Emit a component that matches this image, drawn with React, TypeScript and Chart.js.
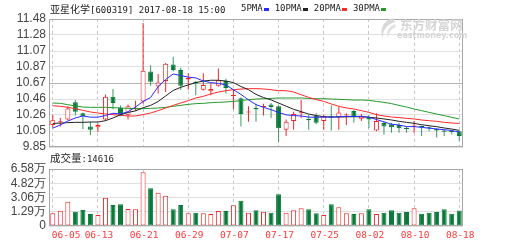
import React, { useEffect, useRef } from "react";
import { Chart, registerables } from "chart.js";

Chart.register(...registerables);

// ---------------- data ----------------
const dates = [
  "06-05","06-06","06-07","06-08","06-09","06-12","06-13","06-14","06-15","06-16",
  "06-19","06-20","06-21","06-22","06-23","06-26","06-27","06-28","06-29","06-30",
  "07-03","07-04","07-05","07-06","07-07","07-10","07-11","07-12","07-13","07-14",
  "07-17","07-18","07-19","07-20","07-21","07-24","07-25","07-26","07-27","07-28",
  "07-31","08-01","08-02","08-03","08-04","08-07","08-08","08-09","08-10","08-11",
  "08-14","08-15","08-16","08-17","08-18",
];

const opens = [
  10.13,10.165,10.20,10.42,10.28,10.11,10.10,10.20,10.49,10.35,
  10.26,10.33,10.43,10.81,10.62,10.69,10.90,10.83,10.71,10.68,
  10.58,10.56,10.63,10.69,10.50,10.47,10.29,10.35,10.36,10.39,
  10.37,10.07,10.18,10.28,10.21,10.25,10.18,10.24,10.23,10.25,
  10.31,10.21,10.23,10.06,10.155,10.14,10.13,10.09,10.11,10.12,
  10.10,10.08,10.06,10.05,10.05,
];
const highs = [
  10.26,10.22,10.37,10.45,10.29,10.17,10.15,10.52,10.59,10.38,
  10.39,10.44,11.43,10.89,10.78,10.92,11.00,10.86,10.79,10.69,
  10.79,10.66,10.85,10.72,10.58,10.48,10.37,10.40,10.40,10.41,
  10.38,10.20,10.30,10.45,10.26,10.28,10.26,10.38,10.36,10.28,
  10.32,10.27,10.25,10.28,10.18,10.155,10.155,10.11,10.18,10.12,
  10.11,10.09,10.07,10.07,10.06,
];
const lows = [
  10.10,10.11,10.19,10.25,10.08,10.00,10.04,10.18,10.33,10.24,
  10.20,10.31,10.40,10.63,10.53,10.55,10.81,10.58,10.58,10.51,
  10.57,10.51,10.62,10.53,10.33,10.11,10.17,10.17,10.25,10.22,
  9.91,9.99,10.07,10.22,10.07,10.14,10.07,10.06,10.07,10.13,
  10.16,10.18,10.09,10.05,10.01,10.03,10.03,10.03,10.03,9.99,
  10.05,9.97,9.99,10.01,9.93,
];
const closes = [
  10.19,10.17,10.34,10.30,10.24,10.07,10.13,10.49,10.41,10.26,
  10.37,10.35,10.82,10.68,10.67,10.91,10.83,10.63,10.73,10.66,
  10.64,10.59,10.70,10.60,10.51,10.27,10.30,10.33,10.37,10.36,
  10.09,10.17,10.27,10.29,10.19,10.16,10.24,10.23,10.29,10.26,
  10.23,10.24,10.20,10.18,10.11,10.10,10.09,10.08,10.115,10.10,
  10.085,10.06,10.045,10.04,9.99,
];

const ma5 = [
  10.09,10.13,10.18,10.22,10.245,10.23,10.23,10.25,10.28,10.27,
  10.30,10.36,10.43,10.48,10.62,10.71,10.78,10.76,10.74,10.73,
  10.69,10.67,10.66,10.64,10.58,10.52,10.45,10.39,10.355,10.325,
  10.29,10.26,10.25,10.245,10.23,10.23,10.23,10.23,10.235,10.24,
  10.24,10.24,10.23,10.20,10.17,10.14,10.13,10.11,10.11,10.10,
  10.09,10.08,10.07,10.06,10.04,
];
const ma10 = [
  10.15,10.155,10.16,10.164,10.164,10.168,10.168,10.185,10.22,10.26,
  10.29,10.31,10.35,10.38,10.43,10.50,10.57,10.61,10.64,10.67,
  10.69,10.70,10.70,10.69,10.67,10.62,10.58,10.52,10.48,10.45,
  10.41,10.37,10.33,10.30,10.27,10.25,10.236,10.232,10.232,10.234,
  10.236,10.236,10.228,10.22,10.207,10.194,10.177,10.164,10.151,10.134,
  10.121,10.109,10.092,10.079,10.062,
];
const ma20 = [
  10.376,10.368,10.355,10.338,10.317,10.296,10.283,10.27,10.262,10.253,
  10.245,10.245,10.262,10.283,10.313,10.347,10.38,10.41,10.44,10.474,
  10.495,10.525,10.55,10.567,10.58,10.588,10.593,10.593,10.589,10.58,
  10.567,10.567,10.55,10.516,10.482,10.453,10.431,10.398,10.368,10.347,
  10.334,10.313,10.291,10.262,10.245,10.232,10.224,10.215,10.207,10.194,
  10.185,10.177,10.164,10.156,10.15,
];
const ma30 = [
  10.41,10.406,10.389,10.372,10.359,10.355,10.355,10.355,10.351,10.347,
  10.342,10.338,10.338,10.342,10.347,10.355,10.368,10.38,10.393,10.402,
  10.406,10.414,10.419,10.423,10.431,10.44,10.453,10.461,10.465,10.469,
  10.474,10.474,10.474,10.474,10.469,10.465,10.465,10.461,10.457,10.453,
  10.448,10.448,10.444,10.431,10.419,10.402,10.38,10.359,10.334,10.313,
  10.291,10.27,10.249,10.228,10.207,
];

// volume in 万
const volumes = [
  1.10,1.42,2.54,1.29,1.51,1.01,0.88,3.04,2.13,2.21,
  1.63,1.59,6.19,4.20,3.66,3.28,1.59,2.13,1.10,1.17,
  1.10,1.01,1.38,1.38,2.09,2.66,1.17,1.47,1.29,1.17,
  3.46,1.17,1.47,1.72,1.59,1.10,0.88,2.21,1.84,1.10,
  1.01,1.10,1.59,1.01,1.17,1.47,1.17,1.26,1.72,1.05,
  1.17,1.26,1.59,1.05,1.46,
];

const priceTickLabels = ["9.85","10.05","10.26","10.46","10.67","10.87","11.07","11.28","11.48"];
const volumeTickLabels = ["0","1.29万","3.06万","4.82万","6.58万"];
const PRICE_MIN = 9.85;
const PRICE_MAX = 11.48;
const VOL_MIN = -0.4685;
const VOL_MAX = 6.5835;
const lastVolume = "14616";
const stockTitle = "亚星化学";
const stockInfo = "[600319] 2017-08-18 15:00";
const maNames = ["5PMA", "10PMA", "20PMA", "30PMA"];
const DATE_STEP = 6;

// ---------------- styles ----------------
const RED = "#f02626";
const GREEN = "#0a7a3a";
const GREEN_WICK = "#3a9863";
const MA_COLORS = ["#2b2bff", "#222222", "#ff2a2a", "#249a2c"];
const FRAME = "#a8a8a8";
const GRID = "#e0e0e0";
const GRID_MID = "#b4b4b4";
const DASH = "#c8c8c8";
const TICK_FONT = { family: "'Liberation Sans', Arial, sans-serif", size: 12 };
const MONO = "'DejaVu Sans Mono', monospace";
const CJK = "'Noto Sans CJK SC', sans-serif";

const isUp = (i: number) => closes[i] >= opens[i];

const framePlugin = {
  id: "frame",
  afterDatasetsDraw(chart: any) {
    const { ctx, chartArea: a } = chart;
    ctx.save();
    ctx.strokeStyle = FRAME;
    ctx.lineWidth = 1;
    const l = Math.round(a.left) + 0.5;
    const t = Math.round(a.top) + 0.5;
    const r = Math.round(a.right) - 0.5;
    const b = Math.round(a.bottom) - 0.5;
    ctx.strokeRect(l, t, r - l, b - t);
    ctx.restore();
  },
};

const dateLabelPlugin = {
  id: "dateLabels",
  afterDraw(chart: any) {
    const { ctx, chartArea: a } = chart;
    const xs = chart.scales.x;
    ctx.save();
    ctx.font = `9.5px ${MONO}`;
    ctx.fillStyle = "#ff3a3a";
    ctx.textBaseline = "middle";
    dates.forEach((d, i) => {
      if (i % DATE_STEP !== 0) return;
      const x = xs.getPixelForValue(i);
      if (i === 0) {
        ctx.textAlign = "left";
        ctx.fillText(d, x - 1, a.bottom + 10);
      } else {
        ctx.textAlign = "center";
        ctx.fillText(d, x + 1, a.bottom + 10);
      }
    });
    ctx.restore();
  },
};

function xScaleOptions() {
  return {
    grid: {
      offset: false,
      drawTicks: false,
      color: (c: any) => (c.index % DATE_STEP === 0 ? DASH : "rgba(0,0,0,0)"),
      lineWidth: 1,
    },
    border: { display: false, dash: [3, 3] },
    ticks: { display: false, autoSkip: false },
    afterFit(scale: any) {
      scale.height = 0;
    },
  };
}

export default function App() {
  const priceRef = useRef<HTMLCanvasElement>(null);
  const volRef = useRef<HTMLCanvasElement>(null);

  useEffect(() => {
    const priceStep = (PRICE_MAX - PRICE_MIN) / (priceTickLabels.length - 1);
    const priceChart = new Chart(priceRef.current as HTMLCanvasElement, {
      type: "bar",
      data: {
        labels: dates,
        datasets: [
          ...[ma5, ma10, ma20, ma30].map((arr, k) => ({
            type: "line" as const,
            label: maNames[k],
            data: arr,
            borderColor: MA_COLORS[k],
            borderWidth: 1,
            pointRadius: 0,
            tension: 0,
            fill: false,
            order: 1,
          })),
          {
            type: "bar" as const,
            label: "body",
            data: opens.map((o, i) => [o, closes[i]]),
            backgroundColor: opens.map((_, i) => (isUp(i) ? "#ffffff" : GREEN)),
            borderColor: opens.map((_, i) => (isUp(i) ? RED : GREEN)),
            borderWidth: 1,
            borderSkipped: false,
            barThickness: 5,
            minBarLength: 1,
            grouped: false,
            inflateAmount: 0,
            order: 2,
          },
          {
            type: "bar" as const,
            label: "wick",
            data: lows.map((l, i) => [l, highs[i]]),
            backgroundColor: lows.map((_, i) => (isUp(i) ? RED : GREEN_WICK)),
            borderWidth: 0,
            barThickness: 1,
            grouped: false,
            inflateAmount: 0,
            order: 3,
          },
        ],
      },
      options: {
        responsive: false,
        animation: false,
        events: [],
        layout: { padding: { top: 19, right: 46, bottom: 13, left: 0 } },
        plugins: { legend: { display: false }, tooltip: { enabled: false } },
        scales: {
          x: xScaleOptions() as any,
          y: {
            min: PRICE_MIN,
            max: PRICE_MAX,
            grid: {
              drawTicks: false,
              color: (c: any) => (c.index === 4 ? GRID_MID : GRID),
            },
            border: { display: false },
            ticks: {
              autoSkip: false,
              padding: 3,
              color: "#444",
              font: TICK_FONT,
              callback: (_v: any, idx: number) => priceTickLabels[idx],
            },
            afterBuildTicks(scale: any) {
              scale.ticks = priceTickLabels.map((_, k) => ({ value: PRICE_MIN + k * priceStep }));
            },
            afterFit(scale: any) {
              scale.width = 49;
            },
          } as any,
        },
      },
      plugins: [framePlugin],
    });

    const volStep = (VOL_MAX - VOL_MIN) / (volumeTickLabels.length - 1);
    const volChart = new Chart(volRef.current as HTMLCanvasElement, {
      type: "bar",
      data: {
        labels: dates,
        datasets: [
          {
            label: "volume",
            data: volumes,
            base: VOL_MIN,
            backgroundColor: volumes.map((_, i) => (isUp(i) ? "#ffffff" : GREEN)),
            borderColor: volumes.map((_, i) => (isUp(i) ? RED : GREEN)),
            borderWidth: 1,
            borderSkipped: false,
            barThickness: 5,
            inflateAmount: 0,
          } as any,
        ],
      },
      options: {
        responsive: false,
        animation: false,
        events: [],
        layout: { padding: { top: 14, right: 46, bottom: 17, left: 0 } },
        plugins: { legend: { display: false }, tooltip: { enabled: false } },
        scales: {
          x: xScaleOptions() as any,
          y: {
            min: VOL_MIN,
            max: VOL_MAX,
            grid: { drawTicks: false, color: GRID },
            border: { display: false },
            ticks: {
              autoSkip: false,
              padding: 3,
              color: "#444",
              font: TICK_FONT,
              callback: (_v: any, idx: number) => volumeTickLabels[idx],
            },
            afterBuildTicks(scale: any) {
              scale.ticks = volumeTickLabels.map((_, k) => ({ value: VOL_MIN + k * volStep }));
            },
            afterFit(scale: any) {
              scale.width = 49;
            },
          } as any,
        },
      },
      plugins: [framePlugin, dateLabelPlugin],
    });

    return () => {
      priceChart.destroy();
      volChart.destroy();
    };
  }, []);

  const sq = (color: string) => (
    <span
      style={{
        display: "inline-block",
        width: 5,
        height: 3,
        background: color,
        margin: "0 6px 0 1px",
        verticalAlign: "middle",
        position: "relative",
        top: 1,
      }}
    />
  );

  return (
    <div
      style={{
        position: "fixed",
        left: 0,
        top: 0,
        width: 509,
        height: 243,
        background: "#ffffff",
        overflow: "hidden",
      }}
    >
      <canvas ref={volRef} width={509} height={88} style={{ position: "absolute", left: 0, top: 155 }} />
      <canvas ref={priceRef} width={509} height={160} style={{ position: "absolute", left: 0, top: 0 }} />

      {/* watermark */}
      <svg width={20} height={24} style={{ position: "absolute", left: 377, top: 17 }}>
        <path d="M16 1 C6 4 2 12 6 22 C5 14 9 8 18 5 Z" fill="#d9d9d9" />
        <path d="M18 7 C11 10 9 15 11 21 C12 15 14 12 19 10 Z" fill="#e2e2e2" />
      </svg>
      <div
        style={{
          position: "absolute",
          left: 400,
          top: 18,
          fontFamily: CJK,
          fontWeight: 700,
          fontSize: 12.5,
          lineHeight: "14px",
          color: "#d6d6d6",
          whiteSpace: "nowrap",
        }}
      >
        东方财富网
      </div>
      <div
        style={{
          position: "absolute",
          left: 397,
          top: 31,
          fontFamily: "'DejaVu Sans', sans-serif",
          fontWeight: 700,
          fontSize: 8,
          lineHeight: "9px",
          color: "#d6d6d6",
          whiteSpace: "nowrap",
        }}
      >
        eastmoney.com
      </div>

      {/* title */}
      <div
        style={{
          position: "absolute",
          left: 50,
          top: 2,
          lineHeight: "12px",
          height: 12,
          color: "#222",
          whiteSpace: "nowrap",
        }}
      >
        <span style={{ fontFamily: CJK, fontSize: 10 }}>{stockTitle}</span>
        <span style={{ fontFamily: MONO, fontSize: 9 }}>{stockInfo}</span>
      </div>
      <div
        style={{
          position: "absolute",
          left: 241,
          top: 2,
          lineHeight: "12px",
          height: 12,
          color: "#222",
          whiteSpace: "nowrap",
          fontFamily: MONO,
          fontSize: 9,
        }}
      >
        {maNames.map((n, k) => (
          <React.Fragment key={n}>
            <span>{n}</span>
            {sq(MA_COLORS[k])}
          </React.Fragment>
        ))}
      </div>

      {/* volume title */}
      <div
        style={{
          position: "absolute",
          left: 50,
          top: 151,
          lineHeight: "12px",
          height: 12,
          color: "#222",
          whiteSpace: "nowrap",
        }}
      >
        <span style={{ fontFamily: CJK, fontSize: 10.5 }}>成交量</span>
        <span style={{ fontFamily: MONO, fontSize: 9 }}>:{lastVolume}</span>
      </div>
    </div>
  );
}
